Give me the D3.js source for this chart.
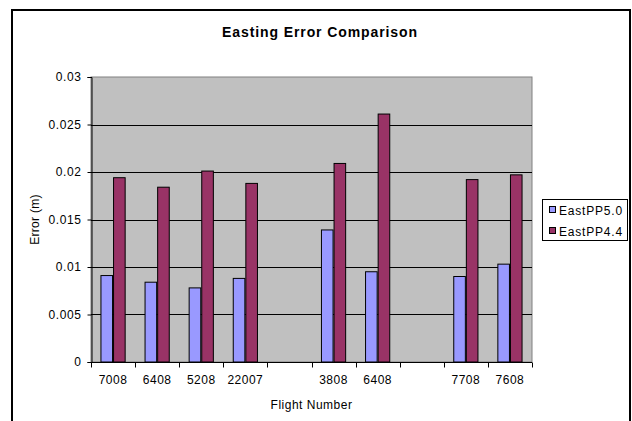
<!DOCTYPE html>
<html>
<head>
<meta charset="utf-8">
<script src="https://cdn.jsdelivr.net/npm/d3@7"></script>
<style>
  body { margin: 0; background: #fff; }
  svg { display: block; font-family: "Liberation Sans", Arial, sans-serif; }
</style>
</head>
<body>
<svg id="chart" width="632" height="421"></svg>
<script>
// flight categories (empty slots are gaps in the original sheet)
const flights = ["7008", "6408", "5208", "22007", "", "3808", "6408", "", "7708", "7608"];
const eastPP50 = [0.0091, 0.0084, 0.0078, 0.0088, null, 0.0139, 0.0095, null, 0.0090, 0.0103];
const eastPP44 = [0.0194, 0.0184, 0.0201, 0.0188, null, 0.0209, 0.0261, null, 0.0192, 0.0197];
const seriesNames = ["EastPP5.0", "EastPP4.4"];
const seriesColors = ["#9999FF", "#993366"];
const yTicks = [0, 0.005, 0.01, 0.015, 0.02, 0.025, 0.03];

const svg = d3.select("#chart");
const plot = { left: 91, top: 77, right: 532, bottom: 362 };

// outer chart border
svg.append("rect")
  .attr("x", 12).attr("y", 10)
  .attr("width", 618).attr("height", 420)
  .attr("fill", "#fff")
  .attr("stroke", "#000")
  .attr("stroke-width", 2);

const x = d3.scaleBand()
  .domain(d3.range(flights.length))
  .range([plot.left, plot.right]);

const y = d3.scaleLinear()
  .domain([0, 0.03])
  .range([plot.bottom, plot.top]);

// bars use excel-like gap width of 150%
const bw = x.bandwidth() / 3.5;
const x1 = d3.scaleBand()
  .domain([0, 1])
  .range([0.75 * bw, 2.75 * bw]);

svg.append("rect")
  .attr("x", plot.left).attr("y", plot.top)
  .attr("width", plot.right - plot.left)
  .attr("height", plot.bottom - plot.top)
  .attr("fill", "#C0C0C0")
  .attr("stroke", "#808080")
  .attr("stroke-width", 1);

// gridlines
svg.append("g")
  .selectAll("line")
  .data(yTicks.filter(d => d > 0 && d < 0.03))
  .join("line")
  .attr("x1", plot.left).attr("x2", plot.right)
  .attr("y1", d => Math.round(y(d)) + 0.5)
  .attr("y2", d => Math.round(y(d)) + 0.5)
  .attr("stroke", "#000")
  .attr("stroke-width", 1);

// bars
const allSeries = [eastPP50, eastPP44];
allSeries.forEach((vals, si) => {
  svg.append("g")
    .selectAll("rect")
    .data(vals.map((v, i) => ({ i, v })).filter(d => d.v != null))
    .join("rect")
    .attr("x", d => x(d.i) + x1(si) + 0.5)
    .attr("y", d => y(d.v))
    .attr("width", x1.bandwidth() - 1)
    .attr("height", d => y(0) - y(d.v))
    .attr("fill", seriesColors[si])
    .attr("stroke", "#000")
    .attr("stroke-width", 1);
});

// y axis
const yAxis = svg.append("g")
  .attr("transform", `translate(${plot.left + 0.5},0)`)
  .call(d3.axisLeft(y).tickValues(yTicks).tickSize(4).tickPadding(6)
    .tickFormat(d => d === 0 ? "0" : String(+d.toFixed(3))));
yAxis.select(".domain").attr("stroke", "#000");
yAxis.selectAll("text").attr("font-size", 12).attr("fill", "#000")
  .attr("letter-spacing", 0.6)
  .attr("font-family", "'Liberation Sans', Arial, sans-serif");

// x axis: ticks at category boundaries
const xAxis = svg.append("g")
  .attr("transform", `translate(0,${plot.bottom + 0.5})`);
xAxis.append("line")
  .attr("x1", plot.left).attr("x2", plot.right)
  .attr("stroke", "#000");
xAxis.selectAll(".tk")
  .data(d3.range(flights.length + 1))
  .join("line")
  .attr("class", "tk")
  .attr("x1", i => Math.round(plot.left + i * x.step()) + 0.5)
  .attr("x2", i => Math.round(plot.left + i * x.step()) + 0.5)
  .attr("y1", 0).attr("y2", 5)
  .attr("stroke", "#000");
xAxis.selectAll("text")
  .data(flights)
  .join("text")
  .attr("x", (d, i) => x(i) + x.bandwidth() / 2)
  .attr("y", 21)
  .attr("text-anchor", "middle")
  .attr("font-size", 12)
  .attr("letter-spacing", 0.5)
  .text(d => d);

// titles
svg.append("text")
  .attr("x", 320).attr("y", 37)
  .attr("text-anchor", "middle")
  .attr("font-size", 14)
  .attr("font-weight", "bold")
  .attr("letter-spacing", 0.9)
  .text("Easting Error Comparison");

svg.append("text")
  .attr("x", (plot.left + plot.right) / 2).attr("y", 409)
  .attr("text-anchor", "middle")
  .attr("font-size", 12)
  .attr("letter-spacing", 0.5)
  .text("Flight Number");

svg.append("text")
  .attr("transform", `translate(39,${(plot.top + plot.bottom) / 2}) rotate(-90)`)
  .attr("text-anchor", "middle")
  .attr("font-size", 12)
  .attr("letter-spacing", 0.3)
  .text("Error (m)");

// legend
const legend = svg.append("g").attr("transform", "translate(542,199)");
legend.append("rect")
  .attr("x", 0.5).attr("y", 0.5)
  .attr("width", 85).attr("height", 41)
  .attr("fill", "#fff")
  .attr("stroke", "#000");
seriesNames.forEach((name, i) => {
  const row = legend.append("g").attr("transform", `translate(0,${11 + i * 21})`);
  row.append("rect")
    .attr("x", 7.5).attr("y", -3.5)
    .attr("width", 6).attr("height", 6)
    .attr("fill", seriesColors[i])
    .attr("stroke", "#000");
  row.append("text")
    .attr("x", 17).attr("y", 4.5)
    .attr("font-size", 12)
    .attr("letter-spacing", 0.8)
    .text(name);
});
</script>
</body>
</html>
